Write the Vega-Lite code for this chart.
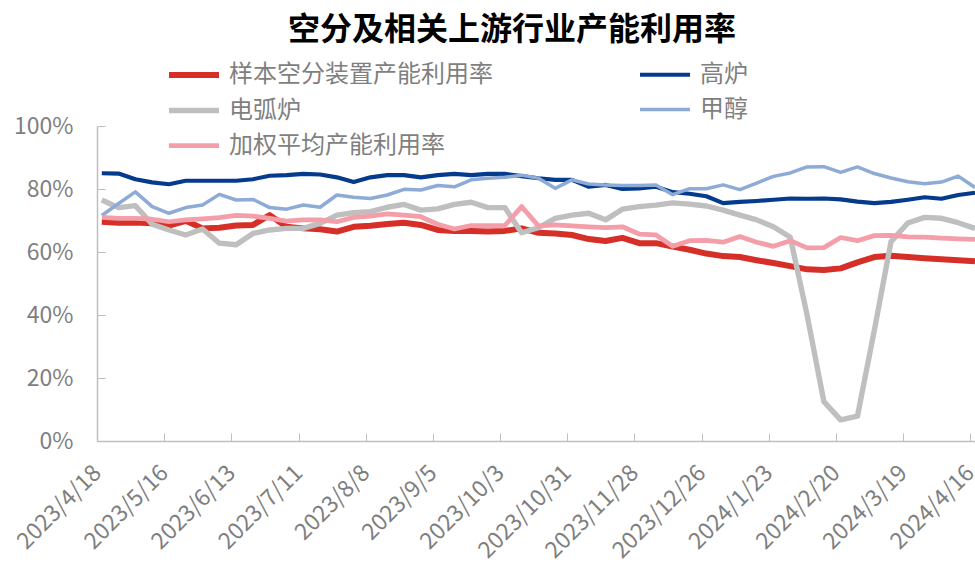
{
  "$schema": "https://vega.github.io/schema/vega-lite/v6.json",
  "width": 878,
  "height": 315,
  "autosize": "none",
  "padding": {"left": 97, "top": 126, "right": 0, "bottom": 128},
  "background": "white",
  "title": {"text": "空分及相关上游行业产能利用率", "fontSize": 32, "fontWeight": "bold", "font": "Noto Sans CJK SC", "color": "#000000", "anchor": "middle", "frame": "group", "offset": 10, "dx": -24},
  "config": {"view": {"stroke": null}, "font": "Noto Sans CJK SC"},
  "data": {"values": [
    {"d":"2023-04-20","样本空分装置产能利用率":69.6,"高炉":85.0,"电弧炉":76.5,"甲醇":71.6,"加权平均产能利用率":71.0},
    {"d":"2023-04-27","样本空分装置产能利用率":69.3,"高炉":84.9,"电弧炉":74.1,"甲醇":75.4,"加权平均产能利用率":70.7},
    {"d":"2023-05-04","样本空分装置产能利用率":69.4,"高炉":83.1,"电弧炉":74.7,"甲醇":79.1,"加权平均产能利用率":70.7},
    {"d":"2023-05-11","样本空分装置产能利用率":69.1,"高炉":82.1,"电弧炉":68.8,"甲醇":74.4,"加权平均产能利用率":70.4},
    {"d":"2023-05-18","样本空分装置产能利用率":68.4,"高炉":81.5,"电弧炉":67.0,"甲醇":72.3,"加权平均产能利用率":69.6},
    {"d":"2023-05-25","样本空分装置产能利用率":69.9,"高炉":82.6,"电弧炉":65.4,"甲醇":74.1,"加权平均产能利用率":70.2},
    {"d":"2023-06-01","样本空分装置产能利用率":67.5,"高炉":82.6,"电弧炉":67.3,"甲醇":74.9,"加权平均产能利用率":70.5},
    {"d":"2023-06-08","样本空分装置产能利用率":67.7,"高炉":82.6,"电弧炉":62.8,"甲醇":78.3,"加权平均产能利用率":70.9},
    {"d":"2023-06-15","样本空分装置产能利用率":68.4,"高炉":82.6,"电弧炉":62.3,"甲醇":76.5,"加权平均产能利用率":71.6},
    {"d":"2023-06-22","样本空分装置产能利用率":68.6,"高炉":83.1,"电弧炉":65.9,"甲醇":76.7,"加权平均产能利用率":71.4},
    {"d":"2023-06-29","样本空分装置产能利用率":71.7,"高炉":84.2,"电弧炉":67.0,"甲醇":74.1,"加权平均产能利用率":70.7},
    {"d":"2023-07-06","样本空分装置产能利用率":68.0,"高炉":84.4,"电弧炉":67.5,"甲醇":73.6,"加权平均产能利用率":69.8},
    {"d":"2023-07-13","样本空分装置产能利用率":67.5,"高炉":84.8,"电弧炉":67.5,"甲醇":74.9,"加权平均产能利用率":70.2},
    {"d":"2023-07-20","样本空分装置产能利用率":67.2,"高炉":84.6,"电弧炉":69.1,"甲醇":74.2,"加权平均产能利用率":70.2},
    {"d":"2023-07-27","样本空分装置产能利用率":66.5,"高炉":83.7,"电弧炉":71.7,"甲醇":78.1,"加权平均产能利用率":69.6},
    {"d":"2023-08-03","样本空分装置产能利用率":68.0,"高炉":82.2,"电弧炉":72.5,"甲醇":77.4,"加权平均产能利用率":71.0},
    {"d":"2023-08-10","样本空分装置产能利用率":68.3,"高炉":83.7,"电弧炉":72.8,"甲醇":77.0,"加权平均产能利用率":71.4},
    {"d":"2023-08-17","样本空分装置产能利用率":68.9,"高炉":84.4,"电弧炉":74.2,"甲醇":78.1,"加权平均产能利用率":72.1},
    {"d":"2023-08-24","样本空分装置产能利用率":69.3,"高炉":84.4,"电弧炉":75.1,"甲醇":79.9,"加权平均产能利用率":71.7},
    {"d":"2023-08-31","样本空分装置产能利用率":68.6,"高炉":83.7,"电弧炉":73.3,"甲醇":79.7,"加权平均产能利用率":71.2},
    {"d":"2023-09-07","样本空分装置产能利用率":67.0,"高炉":84.4,"电弧炉":73.7,"甲醇":81.1,"加权平均产能利用率":68.8},
    {"d":"2023-09-14","样本空分装置产能利用率":66.7,"高炉":84.8,"电弧炉":75.1,"甲醇":80.7,"加权平均产能利用率":67.3},
    {"d":"2023-09-21","样本空分装置产能利用率":66.7,"高炉":84.4,"电弧炉":75.8,"甲醇":82.9,"加权平均产能利用率":68.4},
    {"d":"2023-09-28","样本空分装置产能利用率":66.5,"高炉":84.8,"电弧炉":74.1,"甲醇":83.4,"加权平均产能利用率":68.4},
    {"d":"2023-10-05","样本空分装置产能利用率":66.7,"高炉":84.8,"电弧炉":74.1,"甲醇":83.7,"加权平均产能利用率":68.4},
    {"d":"2023-10-12","样本空分装置产能利用率":67.5,"高炉":84.1,"电弧炉":66.1,"甲醇":84.4,"加权平均产能利用率":74.4},
    {"d":"2023-10-19","样本空分装置产能利用率":66.1,"高炉":83.4,"电弧炉":67.7,"甲醇":83.4,"加权平均产能利用率":68.3},
    {"d":"2023-10-26","样本空分装置产能利用率":65.9,"高炉":82.9,"电弧炉":70.7,"甲醇":80.2,"加权平均产能利用率":68.6},
    {"d":"2023-11-02","样本空分装置产能利用率":65.4,"高炉":82.9,"电弧炉":71.7,"甲醇":82.9,"加权平均产能利用率":68.3},
    {"d":"2023-11-09","样本空分装置产能利用率":64.1,"高炉":80.7,"电弧炉":72.3,"甲醇":81.6,"加权平均产能利用率":68.0},
    {"d":"2023-11-16","样本空分装置产能利用率":63.5,"高炉":81.3,"电弧炉":70.2,"甲醇":81.3,"加权平均产能利用率":67.7},
    {"d":"2023-11-23","样本空分装置产能利用率":64.5,"高炉":80.0,"电弧炉":73.6,"甲醇":81.1,"加权平均产能利用率":68.0},
    {"d":"2023-11-30","样本空分装置产能利用率":62.8,"高炉":80.2,"电弧炉":74.4,"甲醇":81.1,"加权平均产能利用率":65.7},
    {"d":"2023-12-07","样本空分装置产能利用率":62.8,"高炉":80.7,"电弧炉":74.9,"甲醇":81.3,"加权平均产能利用率":65.4},
    {"d":"2023-12-14","样本空分装置产能利用率":61.7,"高炉":79.0,"电弧炉":75.6,"甲醇":78.2,"加权平均产能利用率":61.8},
    {"d":"2023-12-21","样本空分装置产能利用率":60.7,"高炉":78.5,"电弧炉":75.2,"甲醇":80.1,"加权平均产能利用率":63.6},
    {"d":"2023-12-28","样本空分装置产能利用率":59.5,"高炉":77.7,"电弧炉":74.6,"甲醇":80.1,"加权平均产能利用率":63.7},
    {"d":"2024-01-04","样本空分装置产能利用率":58.7,"高炉":75.5,"电弧炉":73.3,"甲醇":81.3,"加权平均产能利用率":63.1},
    {"d":"2024-01-11","样本空分装置产能利用率":58.4,"高炉":75.9,"电弧炉":71.7,"甲醇":79.8,"加权平均产能利用率":64.9},
    {"d":"2024-01-18","样本空分装置产能利用率":57.4,"高炉":76.2,"电弧炉":70.2,"甲醇":81.9,"加权平均产能利用率":63.1},
    {"d":"2024-01-25","样本空分装置产能利用率":56.5,"高炉":76.6,"电弧炉":68.0,"甲醇":84.0,"加权平均产能利用率":61.8},
    {"d":"2024-02-01","样本空分装置产能利用率":55.5,"高炉":77.0,"电弧炉":64.7,"甲醇":85.1,"加权平均产能利用率":63.6},
    {"d":"2024-02-08","样本空分装置产能利用率":54.5,"高炉":76.9,"电弧炉":40.0,"甲醇":87.0,"加权平均产能利用率":61.3},
    {"d":"2024-02-15","样本空分装置产能利用率":54.3,"高炉":77.0,"电弧炉":12.5,"甲醇":87.1,"加权平均产能利用率":61.4},
    {"d":"2024-02-22","样本空分装置产能利用率":54.8,"高炉":76.7,"电弧炉":6.7,"甲醇":85.3,"加权平均产能利用率":64.6},
    {"d":"2024-02-29","样本空分装置产能利用率":56.7,"高炉":76.0,"电弧炉":7.9,"甲醇":87.0,"加权平均产能利用率":63.6},
    {"d":"2024-03-07","样本空分装置产能利用率":58.4,"高炉":75.5,"电弧炉":35.0,"甲醇":84.9,"加权平均产能利用率":65.2},
    {"d":"2024-03-14","样本空分装置产能利用率":58.8,"高炉":75.9,"电弧炉":63.3,"甲醇":83.5,"加权平均产能利用率":65.3},
    {"d":"2024-03-21","样本空分装置产能利用率":58.4,"高炉":76.6,"电弧炉":69.2,"甲醇":82.3,"加权平均产能利用率":64.8},
    {"d":"2024-03-28","样本空分装置产能利用率":58.0,"高炉":77.4,"电弧炉":71.0,"甲醇":81.7,"加权平均产能利用率":64.7},
    {"d":"2024-04-04","样本空分装置产能利用率":57.7,"高炉":76.9,"电弧炉":70.7,"甲醇":82.2,"加权平均产能利用率":64.4},
    {"d":"2024-04-11","样本空分装置产能利用率":57.4,"高炉":78.1,"电弧炉":69.3,"甲醇":84.1,"加权平均产能利用率":64.2},
    {"d":"2024-04-18","样本空分装置产能利用率":57.1,"高炉":78.8,"电弧炉":67.5,"甲醇":80.5,"加权平均产能利用率":64.0}
  ]},
  "transform": [{"fold": ["样本空分装置产能利用率","高炉","电弧炉","甲醇","加权平均产能利用率"], "as": ["series","value"]}],
  "mark": {"type": "line", "strokeJoin": "round"},
  "encoding": {
    "x": {
      "field": "d", "type": "temporal",
      "scale": {"type": "utc", "domain": [{"year":2023,"month":4,"date":18,"utc":true},{"year":2024,"month":4,"date":18,"utc":true}]},
      "axis": {
        "title": null, "grid": false,
        "values": [
          {"year":2023,"month":4,"date":18,"utc":true},{"year":2023,"month":5,"date":16,"utc":true},{"year":2023,"month":6,"date":13,"utc":true},
          {"year":2023,"month":7,"date":11,"utc":true},{"year":2023,"month":8,"date":8,"utc":true},{"year":2023,"month":9,"date":5,"utc":true},
          {"year":2023,"month":10,"date":3,"utc":true},{"year":2023,"month":10,"date":31,"utc":true},{"year":2023,"month":11,"date":28,"utc":true},
          {"year":2023,"month":12,"date":26,"utc":true},{"year":2024,"month":1,"date":23,"utc":true},{"year":2024,"month":2,"date":20,"utc":true},
          {"year":2024,"month":3,"date":19,"utc":true},{"year":2024,"month":4,"date":16,"utc":true}
        ],
        "labelExpr": "utcFormat(datum.value, '%Y/%-m/%-d')",
        "labelAngle": -45, "labelAlign": "right", "labelBaseline": "middle",
        "labelFontSize": 23, "labelColor": "#7f7f7f", "labelPadding": 36,
        "labelOverlap": false, "labelFlush": false,
        "domainColor": "#bfbfbf", "domainWidth": 1.5,
        "tickColor": "#bfbfbf", "tickSize": -8, "tickWidth": 1
      }
    },
    "y": {
      "field": "value", "type": "quantitative",
      "scale": {"domain": [0, 100], "nice": false},
      "axis": {
        "title": null, "grid": false, "values": [0,20,40,60,80,100],
        "labelExpr": "datum.value + '%'",
        "labelFontSize": 23, "labelColor": "#7f7f7f", "labelPadding": 32,
        "domainColor": "#bfbfbf", "domainWidth": 1.5,
        "tickColor": "#bfbfbf", "tickSize": -8, "tickWidth": 1
      }
    },
    "color": {
      "field": "series", "type": "nominal",
      "scale": {"domain": ["样本空分装置产能利用率","电弧炉","加权平均产能利用率","高炉","甲醇"], "range": ["#d52f27","#bfbfbf","#f39ea8","#053b8c","#8eaad6"]},
      "legend": {
        "title": null, "orient": "none", "legendX": 79, "legendY": -69, "columns": 2,
        "columnPadding": 138, "rowPadding": 5.5,
        "symbolType": "M-1.667,0H1.667", "symbolSize": 900,
        "labelFontSize": 24, "labelColor": "#7f7f7f", "labelOffset": 17, "labelLimit": 400
      }
    },
    "strokeWidth": {
      "field": "series", "type": "nominal",
      "scale": {"domain": ["样本空分装置产能利用率","电弧炉","加权平均产能利用率","高炉","甲醇"], "range": [6, 3.5, 3.5, 3.5, 3.5]},
      "legend": {
        "title": null, "orient": "none", "legendX": 79, "legendY": -69, "columns": 2,
        "columnPadding": 138, "rowPadding": 5.5,
        "symbolType": "M-1.667,0H1.667", "symbolSize": 900,
        "labelFontSize": 24, "labelColor": "#7f7f7f", "labelOffset": 17, "labelLimit": 400
      }
    }
  }
}
